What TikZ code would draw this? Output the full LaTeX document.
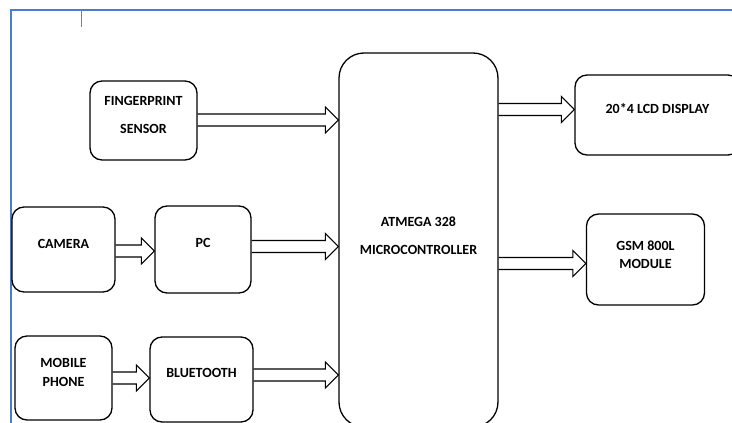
\documentclass[tikz,border=0pt]{standalone}
\usepackage{fontspec}
\setmainfont{Carlito}
\usetikzlibrary{calc}
\definecolor{framblue}{RGB}{72,122,214}
\tikzset{
  blk/.style={draw, line width=1.3pt, rounded corners=12pt, inner sep=0pt},
  lbl/.style={font=\bfseries\fontsize{14}{19}\selectfont, align=center},
  fatline/.style={draw, line width=1.1pt, line join=miter},
}
% hollow block arrow from #1.east to #2.west, shaft centred at height #3
\newcommand{\fatarrow}[3]{%
  \draw[fatline] let \p1=(#1.east), \p2=(#2.west) in
    (\x1,#3-6) -- (\x2-13,#3-6) -- (\x2-13,#3-13) -- (\x2,#3)
    -- (\x2-13,#3+13) -- (\x2-13,#3+6) -- (\x1,#3+6);
}
\begin{document}
\begin{tikzpicture}[x=1pt,y=-1pt]
                \useasboundingbox (0,0) rectangle (732,423);
                \clip (0,0) rectangle (732,423);
                \draw[framblue, line width=1.5pt] (11,423)--(11,10)--(732,10);
                \draw[gray, line width=1pt] (81,10)--(81,27);
                % blocks
                \node[blk, minimum width=107pt, minimum height=79pt,
                  label={[lbl, yshift=5.5pt]center:FINGERPRINT\\[9pt]SENSOR}] (fp) at (143.5,120.5) {};
                \node[blk, minimum width=103pt, minimum height=85pt,
                  label={[lbl, yshift=5.5pt]center:CAMERA}] (cam) at (63.5,249.5) {};
                \node[blk, minimum width=96pt, minimum height=87pt,
                  label={[lbl, yshift=6.5pt]center:PC}] (pc) at (203,249.5) {};
                \node[blk, minimum width=97pt, minimum height=84pt,
                  label={[lbl, yshift=5.5pt]center:MOBILE\\PHONE}] (mob) at (63.5,378) {};
                \node[blk, minimum width=103pt, minimum height=85pt,
                  label={[lbl, yshift=6.5pt]center:BLUETOOTH}] (bt) at (201.5,379.5) {};
                \node[blk, rounded corners=25pt, minimum width=159pt, minimum height=374pt,
                  label={[lbl, yshift=4pt]center:ATMEGA 328\\[9pt]MICROCONTROLLER}] (mcu) at (418.5,240) {};
                \node[blk, minimum width=165pt, minimum height=80pt,
                  label={[lbl, yshift=6pt]center:20*4 LCD DISPLAY}] (lcd) at (657.5,115) {};
                \node[blk, minimum width=118pt, minimum height=91pt,
                  label={[lbl, yshift=4.5pt]center:GSM 800L\\[-1pt]MODULE}] (gsm) at (645.5,259.5) {};
                % arrows
                \fatarrow{fp}{mcu}{120}
                \fatarrow{cam}{pc}{251}
                \fatarrow{pc}{mcu}{246.5}
                \fatarrow{mob}{bt}{378}
                \fatarrow{bt}{mcu}{375}
                \fatarrow{mcu}{lcd}{109.5}
                \fatarrow{mcu}{gsm}{263.5}
\end{tikzpicture}
\end{document}
